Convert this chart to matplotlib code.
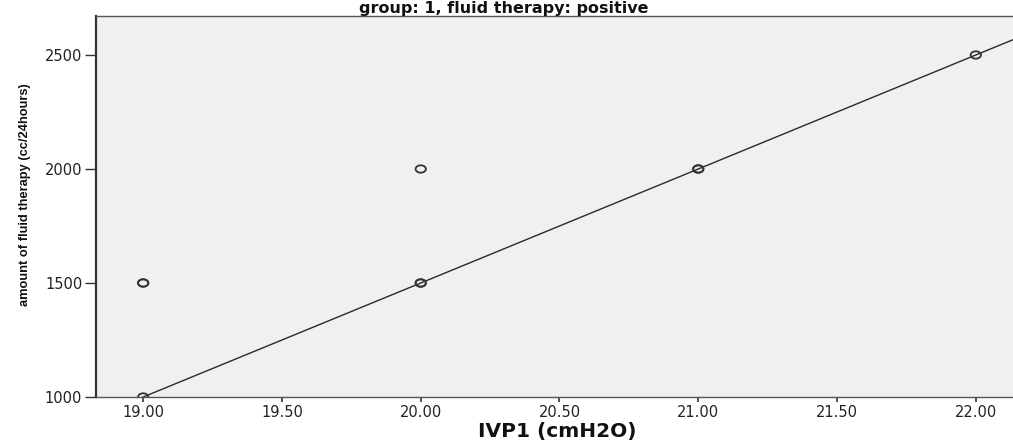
import matplotlib
matplotlib.use("Agg")
import matplotlib.pyplot as plt
import numpy as np
from matplotlib.path import Path
from matplotlib.transforms import Affine2D
from matplotlib.ticker import FormatStrFormatter

# data
ivp1 = [19.0, 19.0, 19.0, 20.0, 20.0, 20.0, 21.0, 21.0, 22.0]
fluid = [1000, 1500, 1500, 2000, 1500, 1500, 2000, 2000, 2500]
fit_slope = 500.0
fit_intercept = -8500.0
x_ticks = [19.0, 19.5, 20.0, 20.5, 21.0, 21.5, 22.0]
y_ticks = [1000, 1500, 2000, 2500]
title = "group: 1, fluid therapy: positive"
xlabel = "IVP1 (cmH2O)"
ylabel = "amount of fluid therapy (cc/24hours)"

W, H = 1013, 446
fig = plt.figure(figsize=(W / 100, H / 100), dpi=100)
left, right, top, bottom = 96, 1013, 16, 397
ax = fig.add_axes([left / W, 1 - bottom / H, (right - left) / W, (bottom - top) / H])
ax.set_facecolor("#f0f0f0")

xlim = (18.83, 22.134)
ax.set_xlim(*xlim)
ax.set_ylim(1000, 2671)

# fit line
xs = np.array(xlim)
ax.plot(xs, fit_slope * xs + fit_intercept, color="#2a2a2a", lw=1.0, zorder=2)

# elliptical open marker
circ = Path.unit_circle()
ell = Affine2D().scale(1.0, 0.72).transform_path(circ)
ax.scatter(ivp1, fluid, marker=ell, s=55, facecolors="none",
           edgecolors="#333333", linewidths=1.3, zorder=3, clip_on=True)

ax.set_xticks(x_ticks)
ax.set_yticks(y_ticks)
ax.xaxis.set_major_formatter(FormatStrFormatter("%.2f"))
ax.tick_params(axis="x", length=3.6, width=1.2, color="#333333", pad=2,
               labelsize=10.5, labelcolor="#222222")
ax.tick_params(axis="y", length=7.9, width=1.0, color="#333333", pad=2,
               labelsize=10.5, labelcolor="#222222")

for s in ["left", "bottom", "top"]:
    ax.spines[s].set_color("#555555")
ax.spines["left"].set_linewidth(1.6)
ax.spines["left"].set_color("#333333")
ax.spines["bottom"].set_linewidth(1.0)
ax.spines["top"].set_linewidth(1.0)
ax.spines["right"].set_visible(False)

fig.text(504 / W, 1 - 9 / H, title, ha="center", va="center",
         fontsize=11.5, fontweight="bold", color="#111111",
         family=["DejaVu Sans"])
fig.text(557 / W, 1 - 431 / H, xlabel, ha="center", va="center",
         fontsize=14.5, fontweight="bold", color="#111111",
         family=["DejaVu Sans"])
fig.text(25 / W, 1 - 195 / H, ylabel, ha="center", va="center", rotation=90,
         fontsize=9.3, fontweight="bold", color="#111111",
         family=["Liberation Sans Narrow", "Liberation Sans", "DejaVu Sans"])

fig.savefig("out.png", dpi=100)
